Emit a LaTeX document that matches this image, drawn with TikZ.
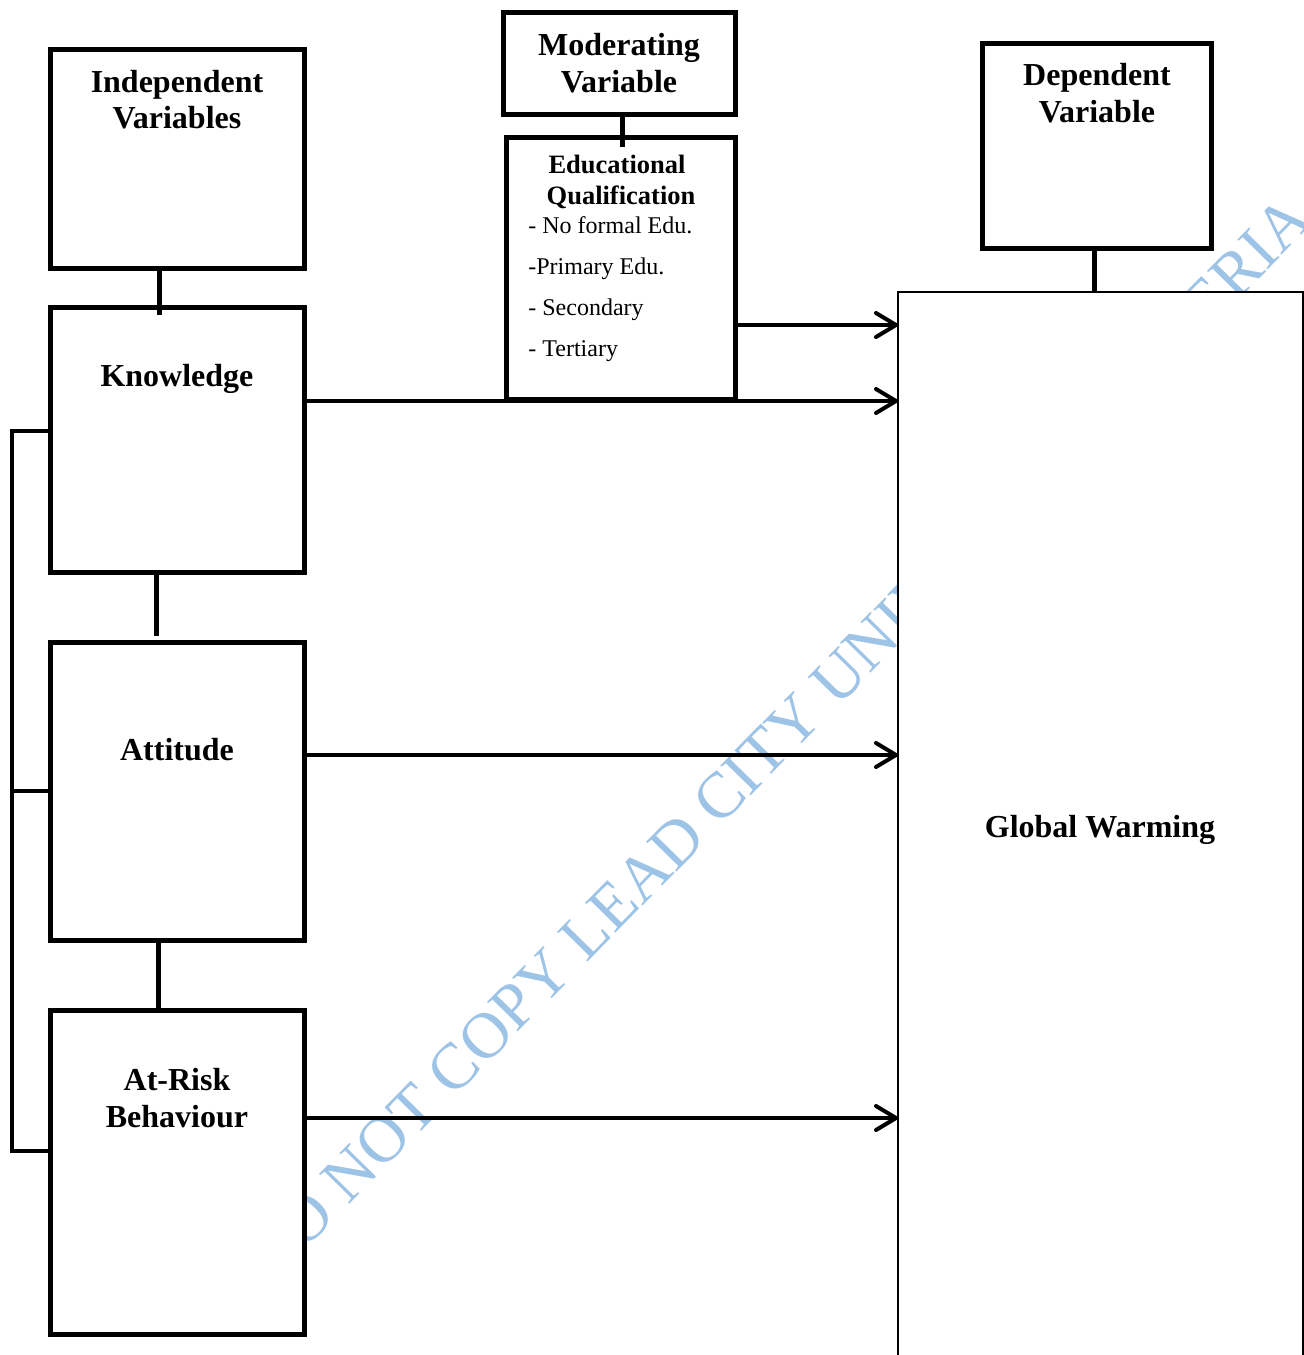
\documentclass[tikz,border=0pt]{standalone}
\usepackage{fontspec}
\setmainfont{Liberation Serif}
\usetikzlibrary{arrows.meta}
\definecolor{wm}{RGB}{157,195,230}
\begin{document}
\begin{tikzpicture}[x=0.5pt,y=-0.5pt,
  boxn/.style={draw, line width=2.5pt, fill=white, inner sep=0pt, outer sep=0pt},
  hdr/.style={font=\fontsize{16}{19}\selectfont\bfseries, anchor=base, inner sep=0pt},
  sub/.style={font=\fontsize{13.25}{15}\selectfont\bfseries, anchor=base, inner sep=0pt},
  itm/.style={font=\fontsize{12}{14}\selectfont, anchor=base west, inner sep=0pt},
  conn/.style={line width=2.5pt},
  brk/.style={line width=2.25pt},
  arr/.style={line width=2pt, -{Straight Barb[length=10pt,width=12pt,round]}},
]
\useasboundingbox (0,0) rectangle (1304,1355);
\clip (0,0) rectangle (1304,1355);
% watermark
\node[font=\fontsize{32.5}{36}\selectfont, text=wm, rotate=45.5, anchor=base, inner sep=0pt] (wmark) at (793,753) {DO NOT COPY LEAD CITY UNIVERSITY, NIGERIA};
% boxes
\node[boxn, minimum width=127pt, minimum height=109.5pt] (iv) at (177,158.5) {};
\node[boxn, minimum width=127pt, minimum height=132.5pt] (kn) at (177,439.5) {};
\node[boxn, minimum width=127pt, minimum height=149pt] (att) at (177,791) {};
\node[boxn, minimum width=127pt, minimum height=162pt] (ar) at (177,1172) {};
\node[boxn, minimum width=116pt, minimum height=51pt] (mod) at (619,63) {};
\node[boxn, minimum width=114.5pt, minimum height=131pt] (edu) at (620.5,268) {};
\node[boxn, minimum width=114.5pt, minimum height=102.5pt] (dv) at (1096.5,145.5) {};
\node[draw, line width=0.75pt, fill=white, inner sep=0pt, outer sep=0pt, minimum width=202.5pt, minimum height=564pt] (gw) at (1100.5,856) {};
% connectors
\draw[conn] ([xshift=-9pt]iv.south) -- ([xshift=-9pt,yshift=-4pt]kn.north);
\draw[conn] ([xshift=1.5pt]mod.south) -- ([xshift=0.75pt,yshift=-5pt]edu.north);
\draw[conn] ([xshift=-1.25pt]dv.south) -- ([xshift=-3.25pt]gw.north);
\draw[conn] ([xshift=-10.5pt]kn.south) -- ([xshift=-10.5pt,yshift=3pt]att.north);
\draw[conn] ([xshift=-9.5pt]att.south) -- ([xshift=-9.5pt]ar.north);
% bracket
\draw[brk] ([yshift=-62pt]kn.north west) -- ++(-38,0) |- ([yshift=-70.5pt]ar.north west);
\draw[brk] ([yshift=-74.5pt]att.north west) -- ++(-38,0);
% arrows
\draw[arr] ([yshift=-94pt]edu.north east) coordinate (a1) -- (a1 -| gw.west);
\draw[arr] ([yshift=-47pt]kn.north east) coordinate (a2) -- (a2 -| gw.west);
\draw[arr] ([yshift=-56.5pt]att.north east) coordinate (a3) -- (a3 -| gw.west);
\draw[arr] ([yshift=-54pt]ar.north east) coordinate (a4) -- (a4 -| gw.west);
% texts
\node[hdr] (tiv1) at (177,92) {Independent};
\node[hdr] (tiv2) at (177,128) {Variables};
\node[hdr] (tkn) at (177,386) {Knowledge};
\node[hdr] (tatt) at (177,760) {Attitude};
\node[hdr] (tar1) at (177,1090) {At-Risk};
\node[hdr] (tar2) at (177,1127) {Behaviour};
\node[hdr] (tm1) at (619,55) {Moderating};
\node[hdr] (tm2) at (619,92) {Variable};
\node[sub] (te1) at (617,173) {Educational};
\node[sub] (te2) at (621,204) {Qualification};
\node[itm] (tl1) at (528,233) {- No formal Edu.};
\node[itm] (tl2) at (528,274) {-Primary Edu.};
\node[itm] (tl3) at (528,315) {- Secondary};
\node[itm] (tl4) at (528,356) {- Tertiary};
\node[hdr] (td1) at (1097,85) {Dependent};
\node[hdr] (td2) at (1097,122) {Variable};
\node[hdr] (tgw) at (1100,837) {Global Warming};
\end{tikzpicture}
\end{document}
